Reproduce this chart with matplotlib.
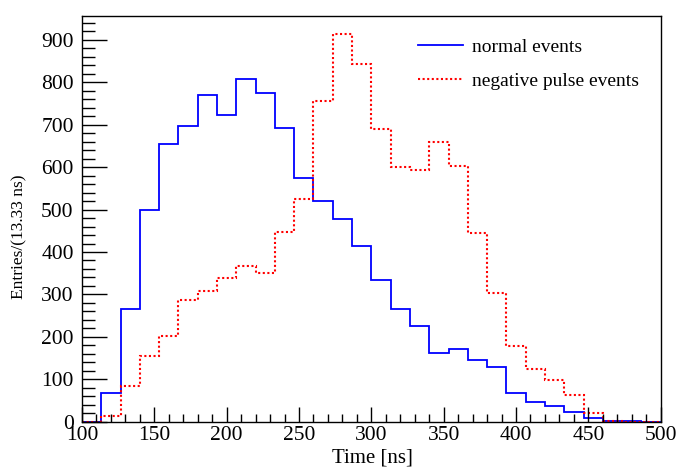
import numpy as np
import matplotlib
matplotlib.use("Agg")
import matplotlib.pyplot as plt
from matplotlib.ticker import MultipleLocator
from matplotlib.lines import Line2D

# Data (30 bins, 100-500 ns, width 13.33 ns)
x_min, x_max, n_bins = 100, 500, 30
normal_events = [0, 67, 265, 500, 654, 698, 769, 724, 807, 775,
                 693, 575, 521, 478, 413, 333, 266, 226, 163, 172,
                 145, 130, 68, 46, 38, 23, 9, 2, 1, 0]
negative_pulse_events = [0, 13, 83, 156, 202, 288, 309, 338, 367, 350,
                         446, 524, 756, 913, 843, 690, 601, 594, 660, 603,
                         445, 303, 178, 125, 99, 62, 21, 1, 0, 0]
x_ticks = [100, 150, 200, 250, 300, 350, 400, 450, 500]
y_ticks = [0, 100, 200, 300, 400, 500, 600, 700, 800, 900]
labels = ["normal events", "negative pulse events"]

edges = np.linspace(x_min, x_max, n_bins + 1)

plt.rcParams['font.family'] = ['Liberation Serif', 'DejaVu Serif']

W, H = 677, 467
fig = plt.figure(figsize=(W / 100, H / 100), dpi=100)
ax = fig.add_axes([82 / W, 1 - 421.7 / H, (660.7 - 82) / W, (421.7 - 15.7) / H])

blue = (0, 0, 1)
red = (1, 0, 0)
dotted = (0, (1.0, 1.2))

ax.stairs(normal_events, edges, baseline=0, color=blue, lw=1.3)
ax.stairs(negative_pulse_events, edges, baseline=0, color=red, lw=1.5, linestyle=dotted)

ax.set_xlim(x_min, x_max)
ax.set_ylim(0, 957)

ax.set_xticks(x_ticks)
ax.set_yticks(y_ticks)
ax.xaxis.set_minor_locator(MultipleLocator(10))
ax.yaxis.set_minor_locator(MultipleLocator(20))
ax.tick_params(which='both', direction='in', top=False, right=False,
               labelsize=15.5, width=1, color='black')
ax.tick_params(axis='y', which='major', length=18, pad=6)
ax.tick_params(axis='y', which='minor', length=9)
ax.tick_params(axis='x', which='major', length=11, pad=3)
ax.tick_params(axis='x', which='minor', length=5.5)
for s in ax.spines.values():
    s.set_linewidth(1.0)

fig.text(372 / W, 1 - 458 / H, "Time [ns]", ha='center', va='center', fontsize=15)
fig.text(19.5 / W, 1 - 237 / H, "Entries/(13.33 ns)", ha='center', va='center',
         rotation=90, fontsize=12.5)

handles = [Line2D([], [], color=blue, lw=1.3),
           Line2D([], [], color=red, lw=1.5, linestyle=dotted)]
leg = ax.legend(handles, labels, loc='upper left', frameon=False, fontsize=14,
                bbox_to_anchor=(418 / W, 1 - 38 / H), bbox_transform=fig.transFigure,
                handlelength=2.3, handletextpad=0.5, labelspacing=0.85,
                borderaxespad=0, borderpad=0)

fig.savefig("out.png", dpi=100)
